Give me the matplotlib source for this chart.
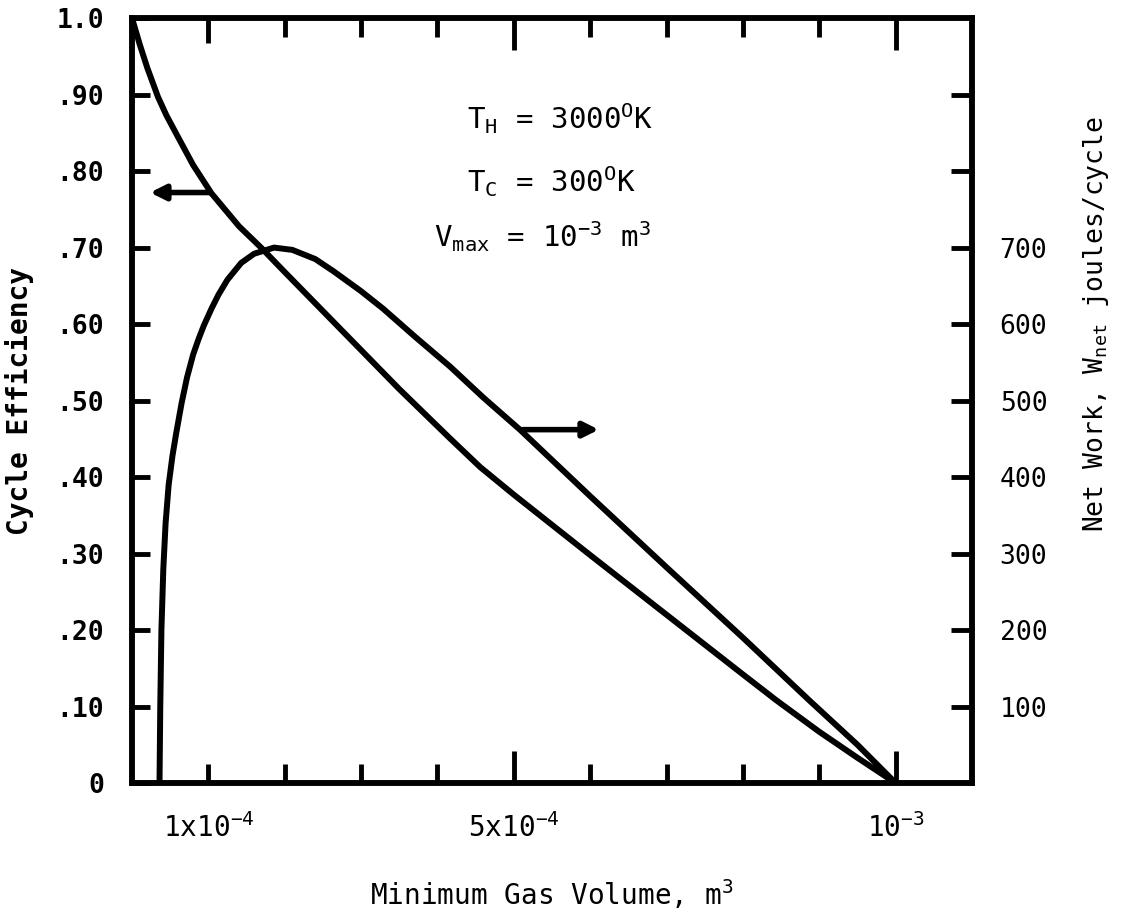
"""Cycle efficiency and net work vs minimum gas volume (scanned report figure)."""
import matplotlib
matplotlib.use('Agg')
import matplotlib.pyplot as plt
from matplotlib.ticker import FixedLocator, NullFormatter

plt.rcParams['font.family'] = ['DejaVu Sans Mono']
plt.rcParams['mathtext.fontset'] = 'custom'
plt.rcParams['mathtext.rm'] = 'DejaVu Sans Mono'
plt.rcParams['mathtext.it'] = 'DejaVu Sans Mono'
plt.rcParams['mathtext.bf'] = 'DejaVu Sans Mono:bold'

# minimum gas volume, in units of 1e-4 m^3
eff_vmin = [0.0, 0.1, 0.2, 0.34, 0.45, 0.6, 0.8, 1.04, 1.4, 1.69, 2.0, 2.5, 3.0, 3.5,
            4.17, 4.56, 5.0, 6.0, 7.0, 8.0, 8.44, 9.0, 9.5, 10.0]
efficiency = [1.000, 0.966, 0.935, 0.897, 0.873, 0.845, 0.808, 0.771, 0.728, 0.700,
              0.668, 0.617, 0.566, 0.515, 0.450, 0.413, 0.377, 0.298, 0.220, 0.142,
              0.108, 0.067, 0.033, 0.0]

work_vmin = [0.36, 0.37, 0.385, 0.41, 0.44, 0.48, 0.53, 0.58, 0.65, 0.72, 0.80, 0.87,
             0.94, 1.04, 1.13, 1.25, 1.43, 1.6, 1.86, 2.1, 2.4, 2.64, 3.0, 3.29, 3.7,
             4.17, 4.6, 5.08, 6.0, 7.0, 8.0, 8.87, 9.5, 10.0]
net_work = [0, 100, 200, 280, 340, 390, 428, 458, 497, 530, 560, 580,
            598, 620, 638, 658, 680, 692, 700, 697, 685, 669, 643, 620, 584,
            544, 504, 462, 375, 282, 190, 108, 50, 0]

eff_ticks = [0.0, 0.1, 0.2, 0.3, 0.4, 0.5, 0.6, 0.7, 0.8, 0.9, 1.0]
eff_labels = ['0', '.10', '.20', '.30', '.40', '.50', '.60', '.70', '.80', '.90', '1.0']
work_ticks = [100, 200, 300, 400, 500, 600, 700]
work_labels = ['100', '200', '300', '400', '500', '600', '700']
x_major = [1, 5, 10]
x_labels = ['1x10$^{-4}$', '5x10$^{-4}$', '10$^{-3}$']
x_minor = [2, 3, 4, 6, 7, 8, 9]

fig = plt.figure(figsize=(11.42, 9.16), dpi=100)
ax = fig.add_axes([0.1156, 0.1452, 0.7355, 0.835])
ax2 = ax.twinx()

ax.plot(eff_vmin, efficiency, color='black', lw=4.3, solid_capstyle='round',
        solid_joinstyle='round')
ax2.plot(work_vmin, net_work, color='black', lw=4.3, solid_capstyle='round',
         solid_joinstyle='round')

ax.set_xlim(0, 11)
ax.set_ylim(0, 1.0)
ax2.set_ylim(0, 1000)

for a in (ax, ax2):
    for s in a.spines.values():
        s.set_linewidth(4)

ax.set_yticks(eff_ticks)
ax.set_yticklabels(eff_labels, fontsize=19, fontweight='bold')
ax.tick_params(axis='y', direction='in', length=13, width=3.5, pad=20)

ax.xaxis.set_major_locator(FixedLocator(x_major))
ax.set_xticklabels(x_labels, fontsize=20)
ax.xaxis.set_minor_locator(FixedLocator(x_minor))
ax.xaxis.set_minor_formatter(NullFormatter())
ax.tick_params(axis='x', which='major', direction='in', length=23, width=3.5,
               top=True, pad=22)
ax.tick_params(axis='x', which='minor', direction='in', length=14, width=3.5, top=True)
# the 1x10^-4 tick is drawn short like the minor ones
first = ax.xaxis.get_major_ticks()[0]
first.tick1line.set_markersize(14)
first.tick2line.set_markersize(18)

ax2.yaxis.set_major_locator(FixedLocator(work_ticks))
ax2.set_yticklabels(work_labels, fontsize=19)
ax2.yaxis.set_minor_locator(FixedLocator([800, 900]))
ax2.tick_params(axis='y', which='both', direction='in', length=15, width=3.5, pad=20)

ax.set_ylabel('Cycle Efficiency', fontsize=20, fontweight='bold', labelpad=16)
ax2.set_ylabel('Net Work, W$_{\\mathregular{net}}$ joules/cycle', fontsize=19,
               labelpad=24, y=0.6)
ax.set_xlabel('Minimum Gas Volume, m$^{\\mathregular{3}}$', fontsize=20, labelpad=24)

# operating conditions
ax.text(4.39, 0.855, 'T$_{\\mathregular{H}}$ = 3000$^{\\mathregular{O}}$K', fontsize=21)
ax.text(4.39, 0.772, 'T$_{\\mathregular{C}}$ = 300$^{\\mathregular{O}}$K', fontsize=21)
ax.text(3.95, 0.70, 'V$_{\\mathregular{max}}$ = 10$^{\\mathregular{-3}}$ m$^{\\mathregular{3}}$',
        fontsize=21)

# arrows pointing to the matching axis
ax.annotate('', xy=(0.2, 0.772), xytext=(1.06, 0.772),
            arrowprops=dict(arrowstyle='-|>,head_length=0.9,head_width=0.45',
                            lw=4, color='black'))
ax.annotate('', xy=(6.15, 0.462), xytext=(5.08, 0.462),
            arrowprops=dict(arrowstyle='-|>,head_length=0.9,head_width=0.45',
                            lw=4, color='black'))

fig.savefig('out.png', dpi=100)
